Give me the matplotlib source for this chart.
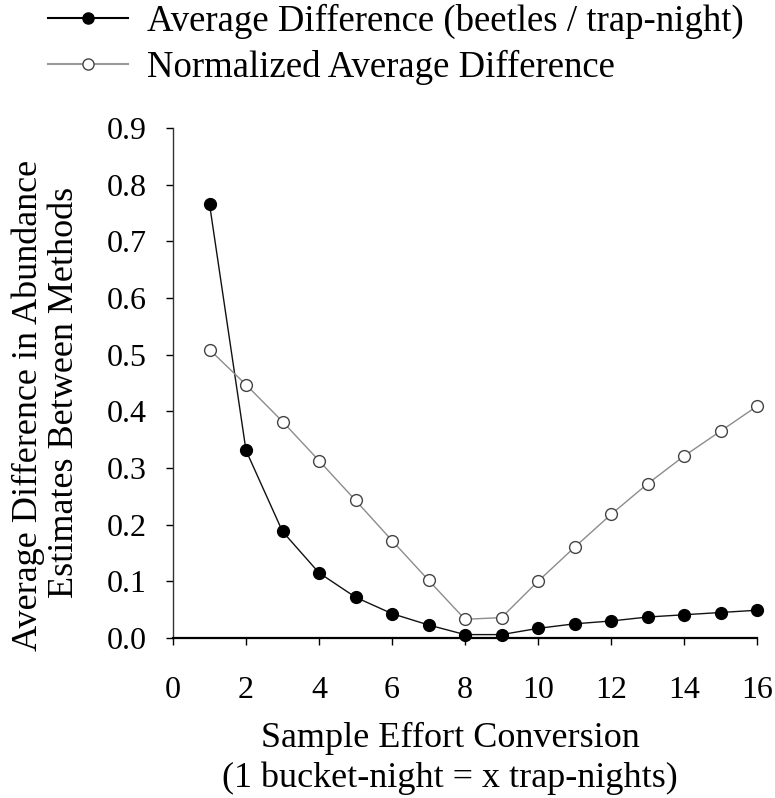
import matplotlib
matplotlib.use("Agg")
import matplotlib.pyplot as plt
from matplotlib.lines import Line2D

plt.rcParams['font.family'] = ['Liberation Serif', 'DejaVu Serif']

x = list(range(1, 17))
avg_diff = [0.766, 0.331, 0.188, 0.115, 0.072, 0.043, 0.023, 0.006,
            0.006, 0.017, 0.025, 0.030, 0.037, 0.041, 0.045, 0.049]
norm_diff = [0.509, 0.447, 0.382, 0.313, 0.243, 0.172, 0.102, 0.033,
             0.036, 0.100, 0.160, 0.218, 0.272, 0.321, 0.365, 0.409]
xticks = [0, 2, 4, 6, 8, 10, 12, 14, 16]
yticks = [0.0, 0.1, 0.2, 0.3, 0.4, 0.5, 0.6, 0.7, 0.8, 0.9]
label1 = "Average Difference (beetles / trap-night)"
label2 = "Normalized Average Difference"

W, H = 775, 798
fig = plt.figure(figsize=(W/100, H/100), dpi=100)
ax = fig.add_axes([173/W, 1-638/H, (757-173)/W, (638-128)/H])

ax.plot(x, avg_diff, color='#111111', lw=1.0, marker='o', ms=8.5,
        mfc='black', mec='black', zorder=3, clip_on=False)
ax.plot(x, norm_diff, color='#8c8c8c', lw=1.0, marker='o', ms=8.5,
        mfc='white', mec='#444444', mew=1.0, zorder=3, clip_on=False)

ax.set_xlim(0, 16)
ax.set_ylim(0, 0.9)
ax.set_xticks(xticks)
ax.set_yticks(yticks)
ax.set_yticklabels([f"{v:.1f}" for v in yticks])
ax.spines['top'].set_visible(False)
ax.spines['right'].set_visible(False)
ax.spines['left'].set_linewidth(1.0)
ax.spines['left'].set_color('#333333')
ax.spines['bottom'].set_linewidth(1.6)
ax.tick_params(direction='out', length=5, width=1.0, labelsize=23)
ax.tick_params(axis='x', pad=22)
ax.tick_params(axis='y', pad=14)

fig.text(450/W, 1-747/H, "Sample Effort Conversion", ha='center', va='baseline', fontsize=26)
fig.text(450/W, 1-787/H, "(1 bucket-night = x trap-nights)", ha='center', va='baseline', fontsize=26)
fig.text(28/W, 1-405/H, "Average Difference in Abundance", ha='center', va='center',
         rotation=90, fontsize=26)
fig.text(65/W, 1-392/H, "Estimates Between Methods", ha='center', va='center',
         rotation=90, fontsize=26)

h1 = Line2D([], [], color='black', lw=1.5, marker='o', ms=8, mfc='black', mec='black')
h2 = Line2D([], [], color='#999999', lw=1.5, marker='o', ms=8, mfc='white', mec='#444444')
fig.legend([h1, h2], [label1, label2], loc='upper left',
           bbox_to_anchor=(48/W, 1-4/H), frameon=False, fontsize=26.5,
           handlelength=2.17, handletextpad=0.52, labelspacing=0.28,
           borderaxespad=0, borderpad=0)

fig.savefig("out.png", dpi=100)
